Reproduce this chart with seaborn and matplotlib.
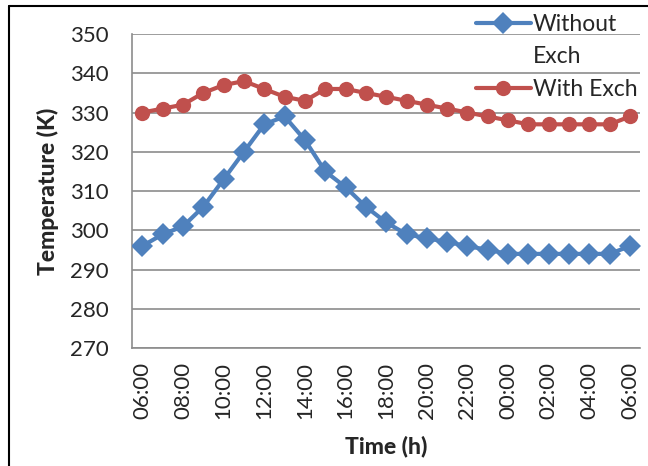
import numpy as np
import pandas as pd
import matplotlib
matplotlib.use('Agg')
import matplotlib.pyplot as plt
import seaborn as sns
from matplotlib.lines import Line2D

# Stundenwerte 06:00 bis 06:00
hours = ['06:00', '07:00', '08:00', '09:00', '10:00', '11:00', '12:00', '13:00',
         '14:00', '15:00', '16:00', '17:00', '18:00', '19:00', '20:00', '21:00',
         '22:00', '23:00', '00:00', '01:00', '02:00', '03:00', '04:00', '05:00', '06:00']
without_exch = [296, 299, 301, 306, 313, 320, 327, 329, 323, 315, 311, 306, 302,
                299, 298, 297, 296, 295, 294, 294, 294, 294, 294, 294, 296]
with_exch = [330, 331, 332, 335, 337, 338, 336, 334, 333, 336, 336, 335, 334,
             333, 332, 331, 330, 329, 328, 327, 327, 327, 327, 327, 329]
series_names = ['Without Exch', 'With Exch']
# Legende bricht "Without Exch" wie im Original um
legend_labels = ['Without', 'Exch', 'With Exch']

df = pd.DataFrame({
    'idx': list(range(len(hours))) * 2,
    'temp': without_exch + with_exch,
    'series': [series_names[0]] * len(hours) + [series_names[1]] * len(hours),
})

sns.set_style('white')
plt.rcParams['font.family'] = ['Lato', 'DejaVu Sans']

fig = plt.figure(figsize=(6.48, 4.66), dpi=100)
ax = fig.add_axes([0.204, 0.253, 0.784, 0.674])

colors = {'Without Exch': '#4F81BD', 'With Exch': '#C0504D'}
sns.lineplot(data=df, x='idx', y='temp', hue='series', style='series',
             palette=colors, markers={'Without Exch': 'D', 'With Exch': 'o'},
             dashes=False, linewidth=3, markersize=11, markeredgewidth=0,
             ax=ax, legend=False, zorder=3)

ax.set_xlim(-0.5, len(hours) - 0.5)
ax.set_ylim(270, 350)
ax.set_yticks(np.arange(270, 351, 10))
ax.set_xticks(range(0, len(hours), 2))
ax.set_xticklabels(hours[::2], rotation=90)
ax.grid(axis='y', color='#8c8c8c', linewidth=1.2)
ax.set_axisbelow(True)
for s in ['top', 'right']:
    ax.spines[s].set_visible(False)
for s in ['left', 'bottom']:
    ax.spines[s].set_color('#8c8c8c')
    ax.spines[s].set_linewidth(1.2)
ax.tick_params(axis='y', length=7, width=1.2, color='#8c8c8c', pad=10, labelsize=16)
ax.tick_params(axis='x', length=0, pad=10, labelsize=16)
ax.set_xlabel('Time (h)', fontsize=16.5, fontweight='black', labelpad=12)
ax.set_ylabel('Temperature (K)', fontsize=16.5, fontweight='black', labelpad=8)

handles = [Line2D([], [], color=colors['Without Exch'], marker='D', lw=3, ms=11, mew=0),
           Line2D([], [], color='none', lw=0),
           Line2D([], [], color=colors['With Exch'], marker='o', lw=3, ms=11, mew=0)]
ax.legend(handles, legend_labels, loc='upper right', bbox_to_anchor=(1.005, 1.0),
          bbox_transform=fig.transFigure, frameon=False, fontsize=16.5,
          handlelength=2.4, handletextpad=0.1, labelspacing=0.5, borderpad=0.1)

# Rahmen links und oben
fig.add_artist(Line2D([0.014, 0.014], [0.0, 0.987], color='black', lw=1.5,
                      transform=fig.transFigure))
fig.add_artist(Line2D([0.014, 1.0], [0.987, 0.987], color='black', lw=1.5,
                      transform=fig.transFigure))

plt.savefig('out.png', dpi=100)
